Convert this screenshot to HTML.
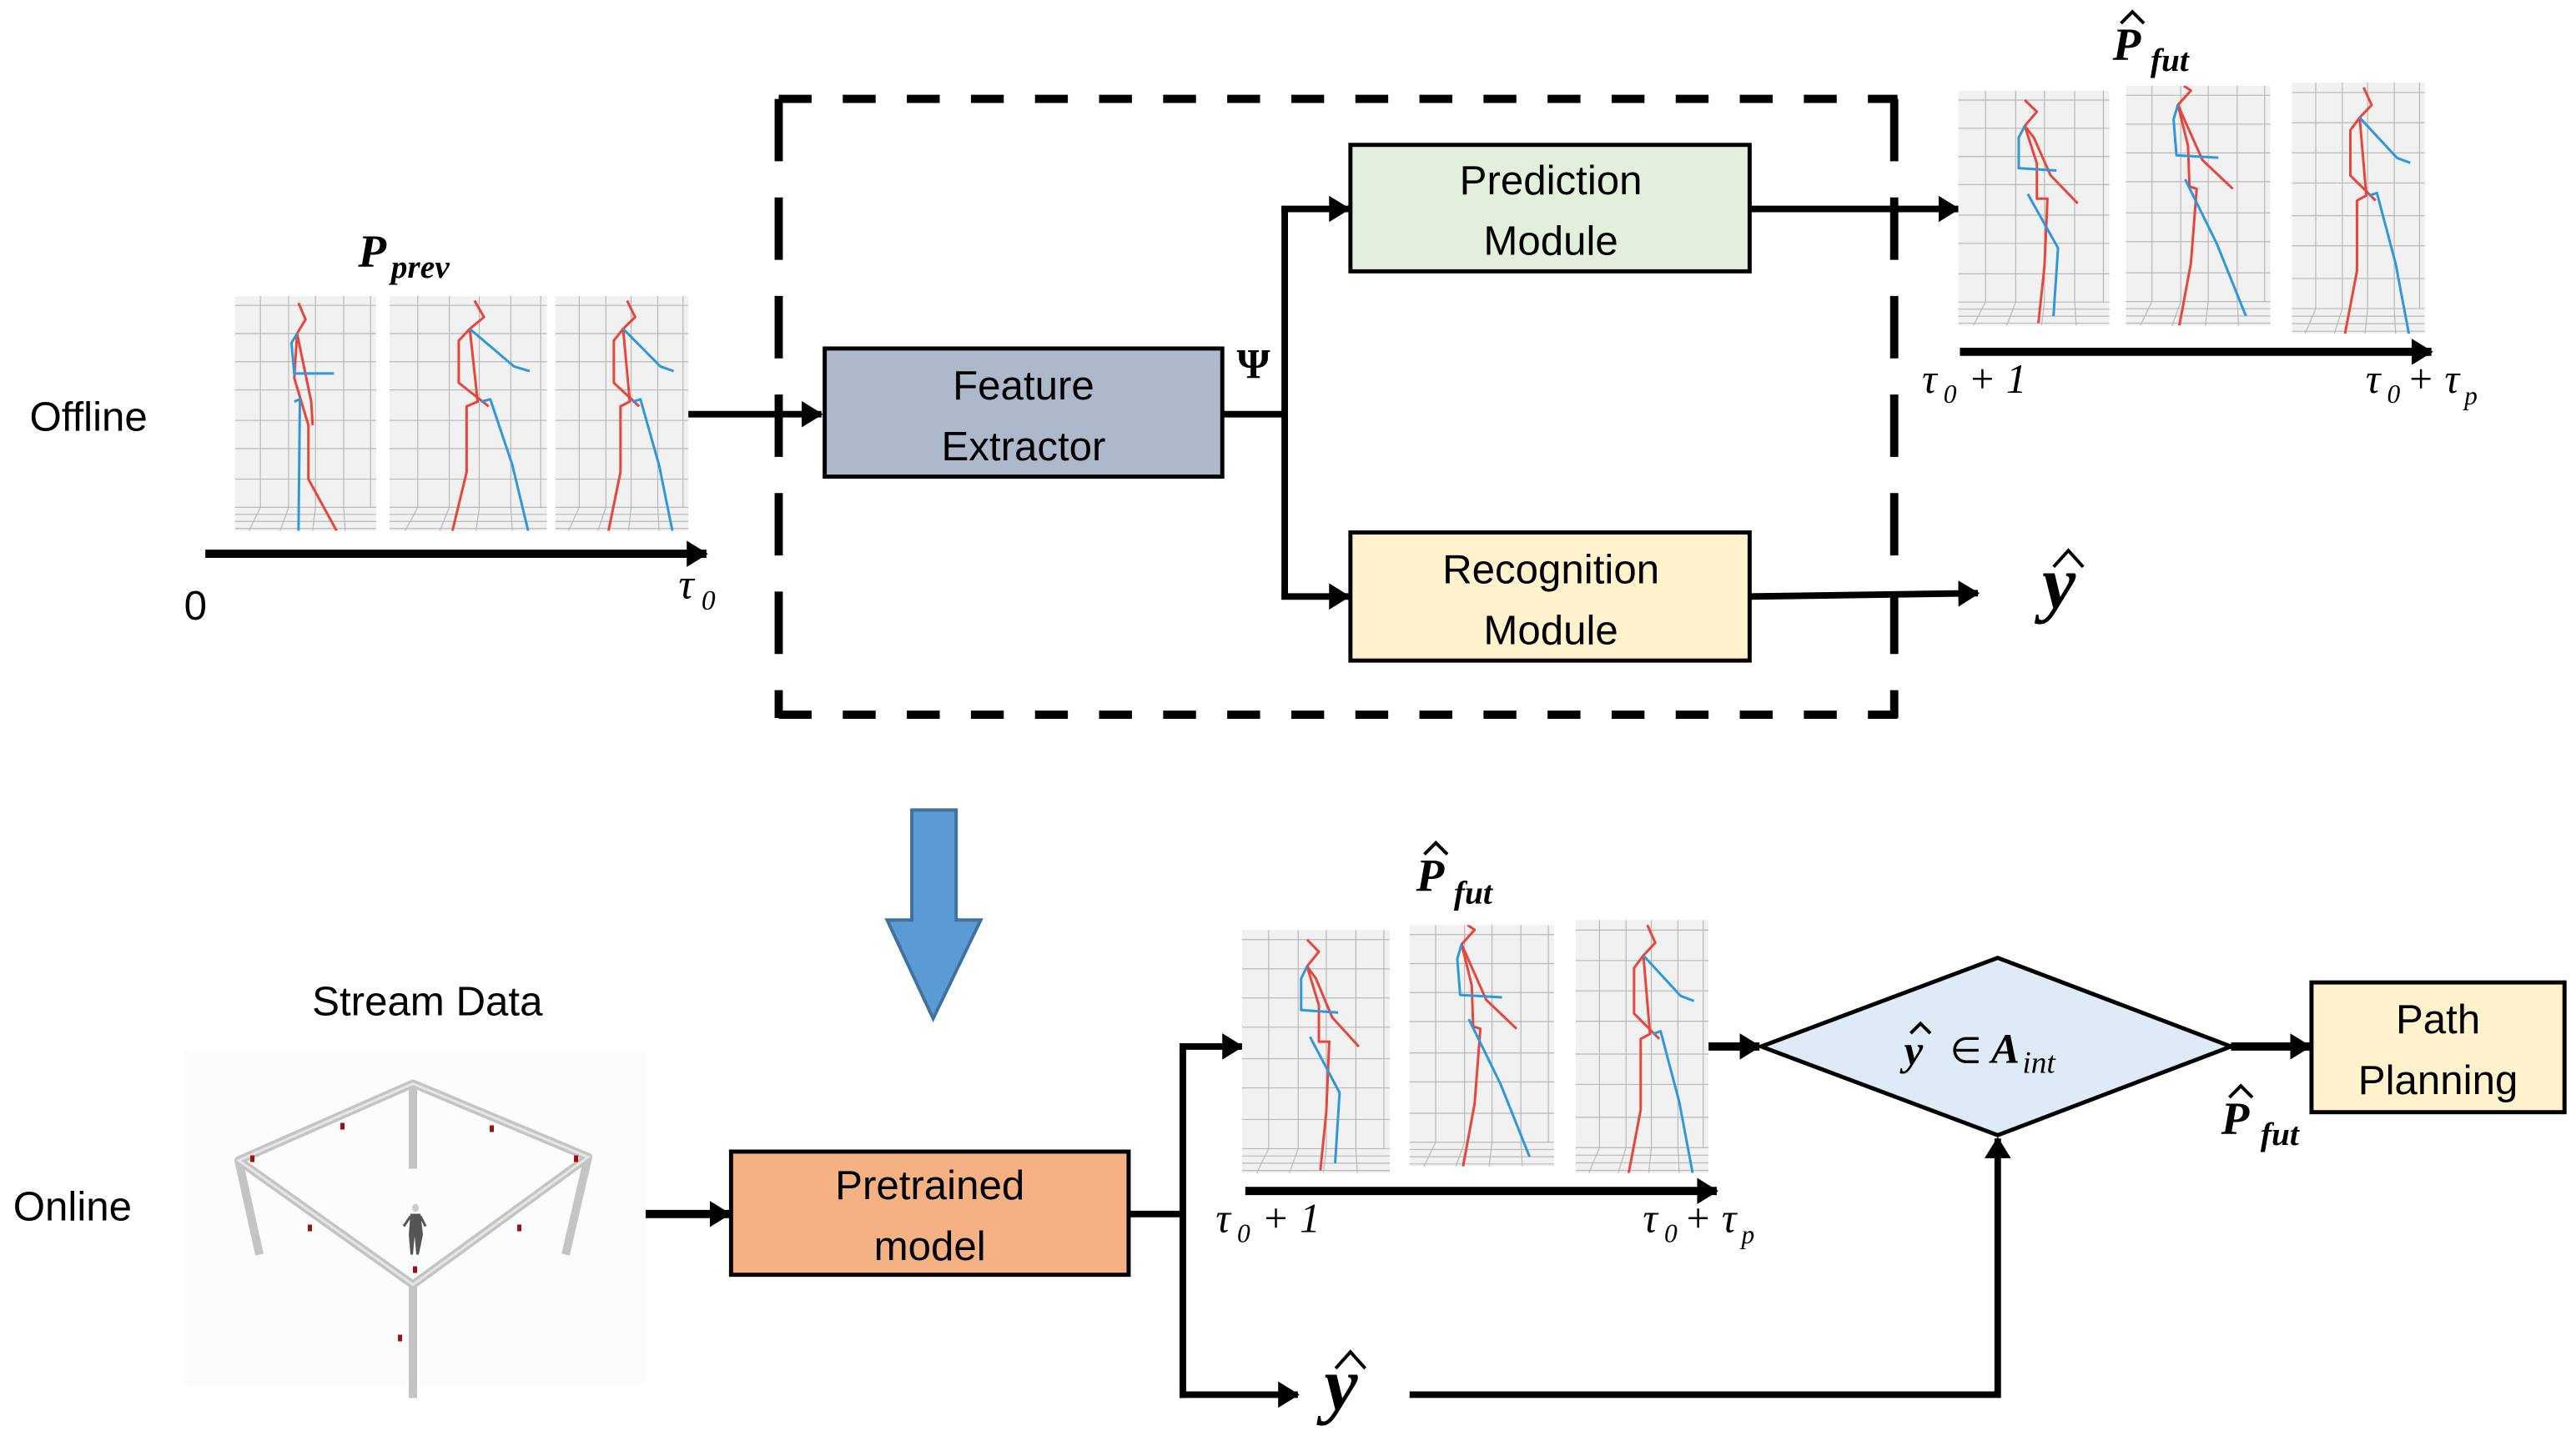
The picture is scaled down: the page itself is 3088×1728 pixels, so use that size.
<!DOCTYPE html>
<html><head><meta charset="utf-8"><style>
html,body{margin:0;padding:0;background:#fff}
svg{display:block}
.t{font-family:"Liberation Sans",sans-serif;font-size:25px;fill:#000}
.m{font-family:"Liberation Serif",serif;font-style:italic;fill:#000}
.hat{fill:none;stroke:#000;stroke-width:2;stroke-linejoin:miter}
</style></head><body>
<svg width="3088" height="1728" viewBox="0 0 1568 877" xmlns="http://www.w3.org/2000/svg">
<defs>
<marker id="ah" markerUnits="userSpaceOnUse" markerWidth="14" markerHeight="16" refX="12" refY="8" orient="auto"><path d="M0,0 L13,8 L0,16 Z" fill="#000"/></marker>
<g id="grid">
<rect x="0" y="0" width="100" height="100" fill="#f1f1f1"/>
<g stroke="#b8b8b8" stroke-width="1.2" fill="none">
<path vector-effect="non-scaling-stroke" d="M18,0V90M38,0V90M57,0V90M77,0V90M96,0V90M0,4H100M0,16H100M0,28H100M0,40H100M0,53H100M0,65H100M0,78H100M0,90H100M0,93H100M0,96H100M0,99H100M18,90L10,100M38,90L32,100M57,90L55,100M77,90L78,100"/>
</g></g>
<g id="skA">
<use href="#grid"/>
<g fill="none" stroke-width="3" stroke-linejoin="round">
<polyline vector-effect="non-scaling-stroke" stroke="#e8453c" points="44,4 52,9 44,15 52,31 52,46 59,46 57,75 53,99"/>
<polyline vector-effect="non-scaling-stroke" stroke="#e8453c" points="44,15 50,20 61,36 79,48"/>
<polyline vector-effect="non-scaling-stroke" stroke="#2f98dc" points="44,15 40,20 40,33 65,34"/>
<polyline vector-effect="non-scaling-stroke" stroke="#2f98dc" points="46,44 66,67 63,96"/>
</g></g>
<g id="skB">
<use href="#grid"/>
<g fill="none" stroke-width="3" stroke-linejoin="round">
<polyline vector-effect="non-scaling-stroke" stroke="#e8453c" points="40,0 45,2 36,8 43,25 44,42 49,43 45,74 37,100"/>
<polyline vector-effect="non-scaling-stroke" stroke="#e8453c" points="36,8 53,31 74,43"/>
<polyline vector-effect="non-scaling-stroke" stroke="#2f98dc" points="36,8 33,14 35,29 64,30"/>
<polyline vector-effect="non-scaling-stroke" stroke="#2f98dc" points="41,39 63,66 83,96"/>
</g></g>
<g id="skC">
<use href="#grid"/>
<g fill="none" stroke-width="3" stroke-linejoin="round">
<polyline vector-effect="non-scaling-stroke" stroke="#e8453c" points="54,2 60,9 51,14 44,19 44,37 63,47"/>
<polyline vector-effect="non-scaling-stroke" stroke="#e8453c" points="51,14 56,45 49,47 49,75 40,100"/>
<polyline vector-effect="non-scaling-stroke" stroke="#2f98dc" points="51,14 79,30 89,32"/>
<polyline vector-effect="non-scaling-stroke" stroke="#2f98dc" points="58,45 64,44 78,72 88,100"/>
</g></g>
<g id="skD">
<use href="#grid"/>
<g fill="none" stroke-width="3" stroke-linejoin="round">
<polyline vector-effect="non-scaling-stroke" stroke="#e8453c" points="45,3 50,10 44,16 42,35 52,55 52,78 72,100"/>
<polyline vector-effect="non-scaling-stroke" stroke="#e8453c" points="44,16 54,45 55,55"/>
<polyline vector-effect="non-scaling-stroke" stroke="#2f98dc" points="44,16 40,20 42,33 70,33"/>
<polyline vector-effect="non-scaling-stroke" stroke="#2f98dc" points="42,45 46,44 45,100"/>
</g></g>
</defs>

<!-- Offline -->
<text class="t" x="18" y="262" font-size="26">Offline</text>
<text class="m" x="218" y="162" font-size="28" font-weight="bold">P</text><text class="m" x="238" y="169" font-size="20" font-weight="bold">prev</text>
<svg x="143" y="180" width="86" height="143" viewBox="0 0 100 100" preserveAspectRatio="none"><use href="#skD"/></svg>
<svg x="237" y="180" width="96" height="143" viewBox="0 0 100 100" preserveAspectRatio="none"><use href="#skC"/></svg>
<svg x="338" y="180" width="81" height="143" viewBox="0 0 100 100" preserveAspectRatio="none"><use href="#skC"/></svg>
<line x1="125" y1="337" x2="430" y2="337" stroke="#000" stroke-width="5" marker-end="url(#ah)"/>
<text class="t" x="112" y="377">0</text>
<text class="m" x="413" y="364" font-size="26">τ</text><text class="m" x="427" y="371" font-size="17" font-style="normal">0</text>
<line x1="419" y1="252" x2="500" y2="252" stroke="#000" stroke-width="4" marker-end="url(#ah)"/>

<!-- dashed box -->
<g stroke="#000" stroke-width="5" fill="none">
<line x1="474" y1="60" x2="1155" y2="60" stroke-dasharray="20 19"/>
<line x1="474" y1="435" x2="1155" y2="435" stroke-dasharray="20 19"/>
<line x1="474" y1="60" x2="474" y2="437" stroke-dasharray="38 22"/>
<line x1="1153" y1="60" x2="1153" y2="437" stroke-dasharray="38 22"/>
</g>

<rect x="502" y="212" width="242" height="78" fill="#adb9ca" stroke="#000" stroke-width="2.5"/>
<text class="t" x="623" y="243" text-anchor="middle">Feature</text>
<text class="t" x="623" y="280" text-anchor="middle">Extractor</text>
<text x="763" y="230" font-family="Liberation Serif,serif" font-weight="bold" font-size="26" text-anchor="middle">Ψ</text>
<path d="M744,252 H782 M782,127 V363" stroke="#000" stroke-width="4" fill="none"/>
<line x1="780" y1="127" x2="821" y2="127" stroke="#000" stroke-width="4" marker-end="url(#ah)"/>
<line x1="780" y1="363" x2="821" y2="363" stroke="#000" stroke-width="4" marker-end="url(#ah)"/>
<rect x="822" y="88" width="243" height="77" fill="#e2efda" stroke="#000" stroke-width="2.5"/>
<text class="t" x="944" y="118" text-anchor="middle">Prediction</text>
<text class="t" x="944" y="155" text-anchor="middle">Module</text>
<rect x="822" y="324" width="243" height="78" fill="#fff2cc" stroke="#000" stroke-width="2.5"/>
<text class="t" x="944" y="355" text-anchor="middle">Recognition</text>
<text class="t" x="944" y="392" text-anchor="middle">Module</text>
<line x1="1065" y1="127" x2="1192" y2="127" stroke="#000" stroke-width="4" marker-end="url(#ah)"/>
<line x1="1065" y1="363" x2="1204" y2="361" stroke="#000" stroke-width="4" marker-end="url(#ah)"/>
<text class="m" x="1243" y="370" font-size="46" font-weight="bold">y</text>
<path class="hat" d="M1250,345 L1259,335 L1268,345" stroke-width="3"/>

<text class="m" x="1286" y="36" font-size="28" font-weight="bold">P</text><path class="hat" d="M1291,14 L1298,7 L1305,14"/><text class="m" x="1309" y="43" font-size="20" font-weight="bold">fut</text>
<svg x="1192" y="55" width="92" height="143" viewBox="0 0 100 100" preserveAspectRatio="none"><use href="#skA"/></svg>
<svg x="1294" y="52" width="88" height="146" viewBox="0 0 100 100" preserveAspectRatio="none"><use href="#skB"/></svg>
<svg x="1395" y="50" width="81" height="153" viewBox="0 0 100 100" preserveAspectRatio="none"><use href="#skC"/></svg>
<line x1="1193" y1="214" x2="1480" y2="214" stroke="#000" stroke-width="5" marker-end="url(#ah)"/>
<text class="m" x="1170" y="239" font-size="25">τ</text><text class="m" x="1183" y="245" font-size="16" font-style="normal">0</text><text class="m" x="1198" y="239" font-size="25" font-style="normal">+ 1</text>
<text class="m" x="1440" y="239" font-size="25">τ</text><text class="m" x="1453" y="245" font-size="16" font-style="normal">0</text><text class="m" x="1465" y="239" font-size="25" font-style="normal">+</text><text class="m" x="1488" y="239" font-size="25">τ</text><text class="m" x="1500" y="246" font-size="16">p</text>

<!-- blue arrow -->
<path d="M555,493 H582 V560 H597 L568,620 L540,560 H555 Z" fill="#5b9bd5" stroke="#41719c" stroke-width="2"/>

<!-- Online -->
<text class="t" x="190" y="618">Stream Data</text>
<text class="t" x="8" y="743" font-size="26">Online</text>
<g transform="scale(0.5078)">
<rect x="220" y="1260" width="555" height="400" fill="#fcfcfc"/>
<g stroke="#c4c4c4" stroke-width="10" fill="none" stroke-linejoin="round">
<path d="M495,1299 L286,1391 L495,1540 L705,1387 Z"/>
<path d="M495,1299 V1401 M286,1391 L311,1504 M705,1387 L678,1504 M495,1540 V1676"/>
</g>
<g stroke="#e6e6e6" stroke-width="3" fill="none">
<path d="M495,1299 L286,1391 L495,1540 L705,1387 Z"/>
</g>
<g fill="#a01010"><rect x="300" y="1385" width="5" height="8"/><rect x="408" y="1346" width="5" height="8"/><rect x="587" y="1349" width="5" height="8"/><rect x="688" y="1385" width="5" height="8"/><rect x="369" y="1468" width="5" height="8"/><rect x="620" y="1468" width="5" height="8"/><rect x="495" y="1518" width="5" height="8"/><rect x="477" y="1600" width="5" height="8"/></g>
<ellipse cx="498" cy="1448" rx="4" ry="5" fill="#ccc"/>
<path d="M492,1455 H504 L507,1480 L502,1504 H499 L497,1482 L495,1504 H492 L490,1480 Z" fill="#555"/>
<path d="M492,1458 L484,1470 M504,1458 L510,1470" stroke="#555" stroke-width="3"/>
</g>
<line x1="393" y1="739" x2="444" y2="739" stroke="#000" stroke-width="5" marker-end="url(#ah)"/>
<rect x="445" y="701" width="242" height="75" fill="#f4b183" stroke="#000" stroke-width="2.5"/>
<text class="t" x="566" y="730" text-anchor="middle">Pretrained</text>
<text class="t" x="566" y="767" text-anchor="middle">model</text>
<path d="M687,739 H720 M720,637 V851" stroke="#000" stroke-width="4" fill="none"/>
<line x1="718" y1="637" x2="756" y2="637" stroke="#000" stroke-width="4" marker-end="url(#ah)"/>
<line x1="718" y1="849" x2="790" y2="849" stroke="#000" stroke-width="4" marker-end="url(#ah)"/>
<text class="m" x="806" y="858" font-size="46" font-weight="bold">y</text>
<path class="hat" d="M813,833 L822,823 L831,833" stroke-width="3"/>
<path d="M858,849 H1216 V693" stroke="#000" stroke-width="4" fill="none" marker-end="url(#ah)"/>

<text class="m" x="862" y="542" font-size="28" font-weight="bold">P</text><path class="hat" d="M867,520 L874,513 L881,520"/><text class="m" x="885" y="550" font-size="20" font-weight="bold">fut</text>
<svg x="756" y="566" width="90" height="148" viewBox="0 0 100 100" preserveAspectRatio="none"><use href="#skA"/></svg>
<svg x="858" y="563" width="88" height="147" viewBox="0 0 100 100" preserveAspectRatio="none"><use href="#skB"/></svg>
<svg x="959" y="560" width="81" height="154" viewBox="0 0 100 100" preserveAspectRatio="none"><use href="#skC"/></svg>
<line x1="758" y1="725" x2="1045" y2="725" stroke="#000" stroke-width="5" marker-end="url(#ah)"/>
<text class="m" x="740" y="750" font-size="25">τ</text><text class="m" x="753" y="756" font-size="16" font-style="normal">0</text><text class="m" x="768" y="750" font-size="25" font-style="normal">+ 1</text>
<text class="m" x="1000" y="750" font-size="25">τ</text><text class="m" x="1013" y="756" font-size="16" font-style="normal">0</text><text class="m" x="1025" y="750" font-size="25" font-style="normal">+</text><text class="m" x="1048" y="750" font-size="25">τ</text><text class="m" x="1060" y="757" font-size="16">p</text>
<line x1="1040" y1="637" x2="1071" y2="637" stroke="#000" stroke-width="5" marker-end="url(#ah)"/>
<polygon points="1072,637 1216,583 1358,637 1216,691" fill="#deebf7" stroke="#000" stroke-width="2.5"/>
<text class="m" x="1159" y="648" font-size="26" font-weight="bold">y</text><path class="hat" d="M1163,629 L1169,623 L1175,629" stroke-width="1.6"/>
<text x="1187" y="647" font-family="Liberation Serif,serif" font-size="22">∈</text>
<text class="m" x="1212" y="647" font-size="26" font-weight="bold">A</text><text class="m" x="1231" y="653" font-size="19">int</text>
<line x1="1358" y1="637" x2="1406" y2="637" stroke="#000" stroke-width="5" marker-end="url(#ah)"/>
<rect x="1407" y="598" width="154" height="79" fill="#fff2cc" stroke="#000" stroke-width="2.5"/>
<text class="t" x="1484" y="629" text-anchor="middle">Path</text>
<text class="t" x="1484" y="666" text-anchor="middle">Planning</text>
<text class="m" x="1352" y="690" font-size="28" font-weight="bold">P</text><path class="hat" d="M1357,668 L1364,661 L1371,668"/><text class="m" x="1376" y="697" font-size="20" font-weight="bold">fut</text>
</svg>
</body></html>
